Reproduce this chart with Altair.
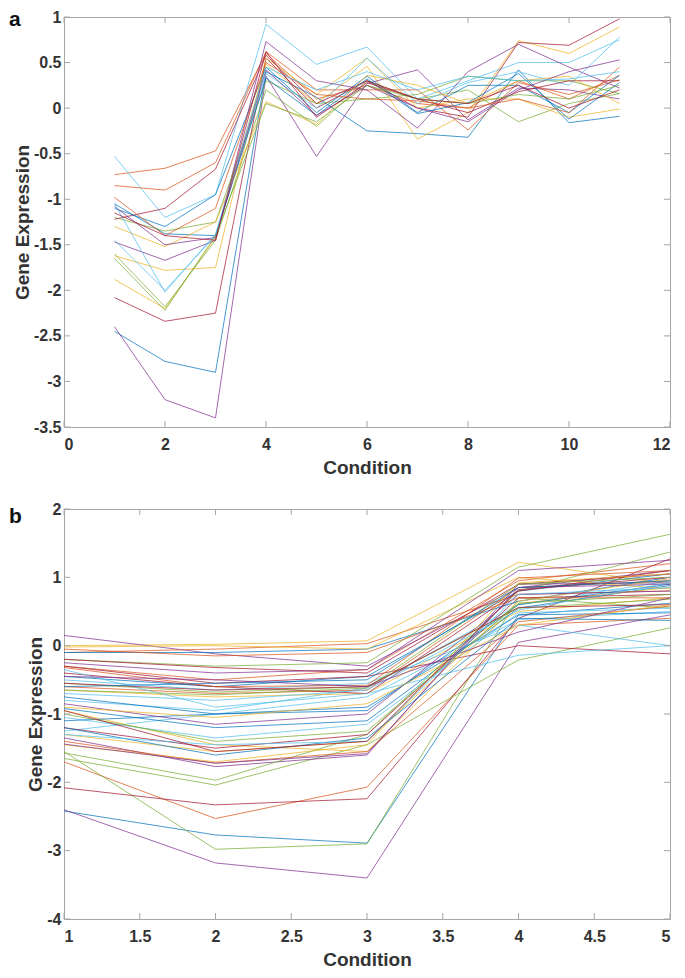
import altair as alt
import pandas as pd

# MATLAB default line colour order
palette = ["#0072BD", "#D95319", "#EDB120", "#7E2F8E", "#77AC30", "#4DBEEE", "#A2142F"]

# ---------------- panel a : 11 conditions ----------------
conds_a = [1, 2, 3, 4, 5, 6, 7, 8, 9, 10, 11]
series_a = [
    [-2.45, -2.78, -2.90, 0.40, 0.12, -0.25, -0.28, -0.32, 0.42, -0.16, -0.09],
    [-0.73, -0.66, -0.47, 0.60, 0.10, 0.25, 0.05, 0.00, 0.30, 0.10, 0.36],
    [-1.88, -2.20, -1.42, 0.48, 0.05, 0.46, -0.34, -0.05, 0.74, 0.60, 0.89],
    [-2.40, -3.20, -3.40, 0.35, -0.53, 0.27, 0.42, -0.13, 0.22, 0.20, 0.10],
    [-1.60, -2.18, -1.45, 0.20, -0.20, 0.30, 0.10, 0.20, -0.15, 0.05, 0.16],
    [-0.53, -1.20, -0.95, 0.92, 0.48, 0.67, 0.10, 0.30, 0.50, 0.50, 0.75],
    [-2.08, -2.34, -2.25, 0.55, 0.00, 0.30, 0.00, -0.10, 0.72, 0.69, 0.98],
    [-1.10, -1.30, -0.95, 0.45, -0.05, 0.35, -0.05, 0.25, 0.25, -0.05, 0.36],
    [-0.85, -0.90, -0.60, 0.62, 0.20, 0.20, 0.20, -0.24, 0.28, 0.15, 0.31],
    [-1.62, -1.78, -1.75, 0.55, 0.15, 0.55, 0.00, 0.10, 0.10, -0.10, -0.01],
    [-1.47, -1.67, -1.45, 0.73, 0.30, 0.20, -0.22, 0.40, 0.70, 0.45, 0.22],
    [-1.20, -1.35, -1.25, 0.30, 0.05, 0.10, 0.15, 0.35, 0.30, 0.30, 0.16],
    [-1.45, -2.00, -1.40, 0.38, 0.00, 0.55, 0.05, 0.28, 0.40, 0.25, 0.78],
    [-1.22, -1.10, -0.67, 0.58, 0.05, 0.30, 0.10, -0.05, 0.18, 0.30, 0.30],
    [-1.05, -1.38, -1.40, 0.33, -0.08, 0.32, -0.06, 0.06, 0.38, -0.12, 0.28],
    [-0.98, -1.40, -1.10, 0.50, 0.15, 0.10, 0.08, 0.00, 0.10, -0.05, 0.45],
    [-1.30, -1.52, -1.25, 0.07, -0.18, 0.36, 0.25, 0.05, 0.30, 0.35, 0.05],
    [-1.08, -1.50, -1.42, 0.42, -0.08, 0.25, 0.00, -0.15, 0.20, 0.40, 0.53],
    [-1.65, -2.22, -1.40, 0.05, -0.15, 0.25, 0.10, 0.05, 0.15, 0.10, 0.25],
    [-1.05, -2.02, -1.38, 0.45, 0.20, 0.40, 0.20, 0.35, 0.30, 0.32, 0.40],
    [-1.15, -1.40, -1.45, 0.62, -0.10, 0.28, 0.10, 0.05, 0.25, 0.00, 0.20],
]
xticks_a = [0, 2, 4, 6, 8, 10, 12]
yticks_a = [-3.5, -3, -2.5, -2, -1.5, -1, -0.5, 0, 0.5, 1]

# ---------------- panel b : 5 conditions ----------------
conds_b = [1, 2, 3, 4, 5]
series_b = [
    [-2.42, -2.77, -2.89, 0.45, 0.62],
    [-1.70, -2.53, -2.07, 0.30, 0.40],
    [0.00, 0.02, 0.07, 1.22, 0.90],
    [-2.40, -3.18, -3.40, 0.05, 0.45],
    [-1.55, -2.98, -2.90, 0.70, 0.55],
    [-0.80, -0.95, -0.62, 0.60, 0.95],
    [-2.08, -2.33, -2.24, 0.40, 1.27],
    [-0.45, -0.60, -0.45, 0.80, 1.05],
    [-0.30, -0.50, -0.35, 0.95, 1.20],
    [-0.65, -0.75, -0.70, 0.50, 0.70],
    [0.15, -0.12, -0.30, 0.85, 1.10],
    [-1.65, -2.04, -1.45, -0.21, 0.26],
    [-1.25, -1.00, -0.75, 0.38, 0.50],
    [-0.30, -0.55, -0.45, 0.00, -0.12],
    [-0.92, -1.20, -1.10, 0.55, 0.88],
    [-0.10, -0.05, 0.03, 0.75, 0.80],
    [-0.95, -1.45, -1.55, 0.62, 0.85],
    [-1.35, -1.77, -1.60, 0.90, 0.92],
    [-1.57, -1.97, -1.30, 0.80, 1.37],
    [-0.50, -0.65, -0.55, 0.30, 0.00],
    [-1.20, -1.50, -1.30, 0.70, 0.75],
    [-0.10, -0.10, -0.05, 0.65, 1.00],
    [-0.60, -0.70, -0.65, 0.85, 0.95],
    [-0.02, 0.00, -0.05, 1.00, 0.83],
    [-0.25, -0.40, -0.35, 1.10, 1.25],
    [-0.20, -0.30, -0.25, 1.15, 1.63],
    [-1.05, -1.35, -1.15, 0.48, 0.55],
    [-0.40, -0.60, -0.70, 0.80, 1.10],
    [-1.10, -1.00, -0.90, 0.45, 0.48],
    [-1.40, -1.72, -1.55, 0.35, 0.58],
    [-1.30, -1.55, -1.40, 0.65, 0.98],
    [-0.85, -1.15, -1.00, 0.75, 0.80],
    [-0.55, -0.68, -0.60, 0.55, 0.68],
    [-0.35, -0.90, -0.70, -0.14, 0.00],
    [-0.20, -0.32, -0.40, 0.90, 1.05],
    [-0.75, -1.00, -0.95, 0.60, 0.90],
    [-0.05, -0.15, -0.10, 0.70, 0.70],
    [-1.45, -1.70, -1.45, 0.92, 1.05],
    [-1.44, -1.72, -1.58, 0.85, 0.90],
    [-0.65, -0.72, -0.62, 0.90, 1.00],
    [-0.70, -0.80, -0.65, 0.52, 0.92],
    [-0.55, -0.65, -0.60, 0.56, 0.60],
    [-1.20, -1.60, -1.35, 0.40, 0.37],
    [-0.32, -0.60, -0.58, 0.99, 1.10],
    [-0.90, -1.05, -0.85, 0.30, 0.60],
    [-0.45, -0.50, -0.60, 0.20, 0.70],
    [-1.00, -1.40, -1.25, 0.62, 0.75],
    [-1.30, -1.45, -1.40, 0.75, 0.85],
    [-0.95, -1.55, -1.40, 0.82, 1.00],
    [-0.60, -0.55, -0.50, 0.85, 0.95],
]
xticks_b = [1, 1.5, 2, 2.5, 3, 3.5, 4, 4.5, 5]
yticks_b = [-4, -3, -2, -1, 0, 1, 2]

W, H = 606, 410
FRAME = "#a6a6a6"
TXT = "#333333"
TICK = 6
FONT = "Liberation Sans"


def to_long(conds, series):
    rows = []
    for i, s in enumerate(series):
        for c, v in zip(conds, s):
            rows.append({"gene": i, "cond": c, "expr": v, "col": palette[i % len(palette)]})
    return pd.DataFrame(rows)


def axis(values, title, label_pad, title_pad):
    return alt.Axis(values=values, title=title, ticks=False, tickSize=0, domain=False,
                    grid=False, labelPadding=label_pad, titlePadding=title_pad,
                    labelExpr="toString(datum.value)",
                    labelFont=FONT, titleFont=FONT, labelFontSize=16, titleFontSize=19,
                    labelFontWeight="bold", titleFontWeight="bold",
                    labelColor=TXT, titleColor=TXT)


def panel(conds, series, xticks, yticks, xdom, ydom, letter, letter_y):
    df = to_long(conds, series)
    xaxis = axis(xticks, "Condition", 9, 6)
    yaxis = axis(yticks, "Gene Expression", 3, 1)
    x_enc = alt.X("cond:Q", scale=alt.Scale(domain=xdom, nice=False, zero=False), axis=xaxis)
    y_enc = alt.Y("expr:Q", scale=alt.Scale(domain=ydom, nice=False, zero=False), axis=yaxis)

    lines = alt.Chart(df).mark_line(strokeWidth=1, opacity=0.72).encode(
        x=x_enc, y=y_enc, detail="gene:N", color=alt.Color("col:N", scale=None)
    )
    xt = pd.DataFrame({"cond": xticks})
    yt = pd.DataFrame({"expr": yticks})
    xb = alt.Chart(xt).mark_rule(color=FRAME, strokeWidth=1).encode(
        x=x_enc, y=alt.value(H), y2=alt.value(H - TICK))
    xtop = alt.Chart(xt).mark_rule(color=FRAME, strokeWidth=1).encode(
        x=x_enc, y=alt.value(0), y2=alt.value(TICK))
    yl = alt.Chart(yt).mark_rule(color=FRAME, strokeWidth=1).encode(
        y=y_enc, x=alt.value(0), x2=alt.value(TICK))
    yr = alt.Chart(yt).mark_rule(color=FRAME, strokeWidth=1).encode(
        y=y_enc, x=alt.value(W), x2=alt.value(W - TICK))
    lab = alt.Chart(pd.DataFrame({"t": [letter]})).mark_text(
        align="left", baseline="alphabetic", fontSize=21, fontWeight="bold",
        font=FONT, color="#111111"
    ).encode(text="t:N", x=alt.value(-55), y=alt.value(letter_y))
    return alt.layer(lines, xb, xtop, yl, yr, lab).properties(width=W, height=H)


pa = panel(conds_a, series_a, xticks_a, yticks_a, [0, 12], [-3.5, 1], "a", 9)
pb = panel(conds_b, series_b, xticks_b, yticks_b, [1, 5], [-4, 2], "b", 14)

chart = alt.vconcat(pa, pb, spacing=22).properties(padding=0).configure(
    background="white"
).configure_view(
    stroke=FRAME, strokeWidth=1
)

chart.save("out.html", embed_options={"renderer": "svg", "actions": False})
